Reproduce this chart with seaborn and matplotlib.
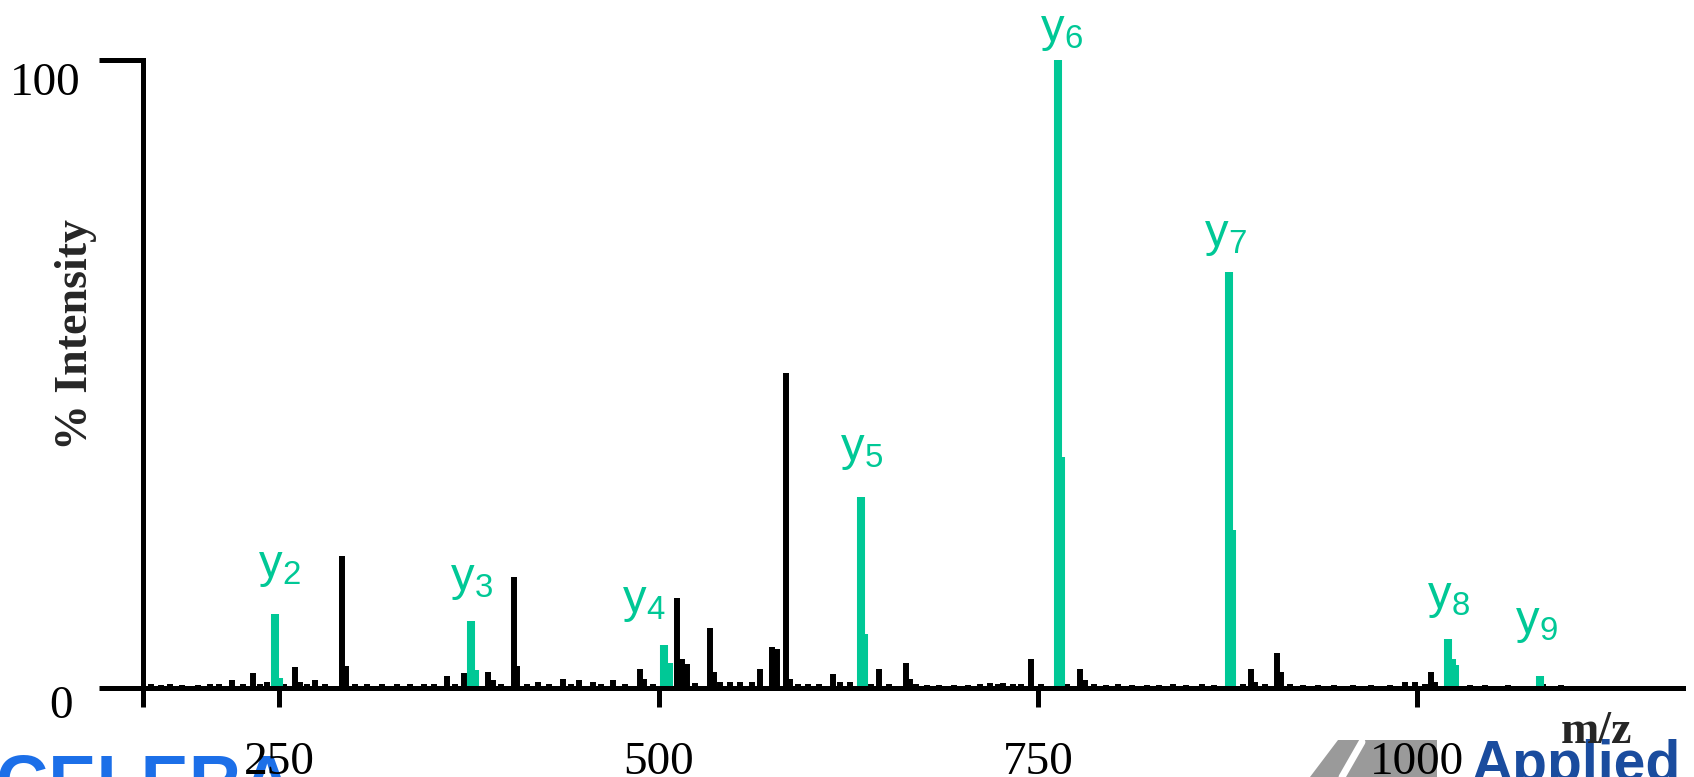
import numpy as np
import pandas as pd
import matplotlib
matplotlib.use("Agg")
import matplotlib.pyplot as plt
import matplotlib.transforms as mtransforms
from matplotlib.patches import Polygon
import seaborn as sns

# ---- spectrum data -------------------------------------------------------
# assigned y-ion fragments
y_ion_names = ["2", "3", "4", "5", "6", "7", "8", "9"]
y_ion_mz = [247.0, 376.3, 503.5, 633.3, 763.2, 876.0, 1020.4, 1081.0]
y_ion_int = [11.8, 10.7, 6.8, 30.4, 100.0, 66.2, 7.8, 1.9]

# isotope shoulders of the y ions
y_iso_mz = [249.5, 378.8, 506.5, 635.5, 765.6, 878.0, 1022.8, 1025.0]
y_iso_int = [1.6, 2.9, 4.0, 8.6, 36.8, 25.2, 4.6, 3.7]

# unassigned peaks
other_mz = [165, 172, 178, 186, 196, 204, 210, 218.6, 226, 232.6, 237, 241.8,
            253, 260.0, 263.5, 268, 273.4, 280, 291.5, 294.0, 300, 308, 317.6,
            327.5, 336, 345, 352, 360.4, 366, 371.7, 387.5, 390.5, 396, 404.6,
            406.5, 413, 420.4, 428, 437.0, 442, 447.5, 456.7, 462, 469.9, 478,
            487.7, 490.5, 496, 512.1, 515.4, 518.6, 524, 533.9, 536.2, 540.5,
            547.1, 553.7, 561.6, 566.9, 574.8, 578.0, 584.0, 586.8, 592, 598.5,
            606, 615.0, 619.6, 626.2, 640, 645.2, 652, 663.1, 666.0, 670, 677,
            685, 695, 704, 712, 718.6, 724, 727.1, 733.7, 739, 745.6, 752, 769,
            777.9, 781, 787, 795, 803, 812, 822, 830, 839, 848, 858.3, 866, 885,
            890.7, 893, 900, 907.9, 910.5, 916, 925, 935, 945, 958, 970, 982,
            992.3, 999.0, 1005, 1009.5, 1012, 1026, 1035, 1045, 1060, 1083, 1095]
other_int = [0.6, 0.5, 0.6, 0.5, 0.5, 0.6, 0.6, 1.2, 0.6, 2.4, 0.7, 1.0,
             0.6, 3.4, 1.0, 0.6, 1.2, 0.7, 21.0, 3.5, 0.6, 0.6, 0.7,
             0.7, 0.6, 0.6, 0.6, 1.9, 0.7, 2.4, 2.6, 1.2, 0.7, 17.7,
             3.5, 0.7, 0.9, 0.6, 1.5, 0.7, 1.2, 0.9, 0.6, 1.2, 0.7,
             3.1, 1.5, 0.7, 14.3, 4.6, 3.9, 0.8, 9.6, 2.5, 1.0,
             0.9, 0.9, 1.0, 3.0, 6.5, 6.2, 50.2, 1.5, 0.7, 0.7,
             0.6, 2.2, 0.9, 0.9, 0.6, 3.0, 0.7, 4.0, 1.5, 0.7, 0.5,
             0.5, 0.5, 0.5, 0.7, 0.8, 0.6, 0.8, 0.7, 0.6, 4.6, 0.6, 0.6,
             3.0, 1.2, 0.6, 0.5, 0.6, 0.5, 0.5, 0.5, 0.7, 0.5, 0.7, 0.5, 0.6,
             3.0, 0.9, 0.6, 5.6, 2.5, 0.6, 0.5, 0.5, 0.5, 0.5, 0.5, 0.5,
             0.9, 1.0, 0.6, 2.5, 0.9, 0.6, 0.5, 0.5, 0.5, 0.6, 0.4]

x_ticks = [250, 500, 750, 1000]
y_ticks = [0, 100]
y_tick_labels = ["0", "100"]

GREEN = "#00C896"
SERIF = "Liberation Serif"
SANS = "Liberation Sans"


def stick_frame(mz, intensity):
    """Long-form table: each peak is a vertical stick from 0 to its intensity."""
    mz = np.asarray(mz, dtype=float)
    inten = np.asarray(intensity, dtype=float)
    n = len(mz)
    return pd.DataFrame({
        "mz": np.repeat(mz, 2),
        "intensity": np.column_stack([np.zeros(n), inten]).ravel(),
        "peak": np.repeat(np.arange(n), 2),
    })


sns.set_theme(style="ticks")
plt.rcParams["font.family"] = [SERIF, "DejaVu Serif"]
plt.rcParams["axes.linewidth"] = 3.6

fig = plt.figure(figsize=(16.94, 7.77), dpi=100)
fig.patch.set_facecolor("white")
ax = fig.add_axes([143 / 1694, 89 / 777, 1540 / 1694, 628 / 777])
ax.set_facecolor("none")

stick_kw = dict(x="mz", y="intensity", units="peak", estimator=None, sort=False,
                ax=ax, legend=False, solid_capstyle="butt")
sns.lineplot(data=stick_frame(other_mz, other_int), color="black", lw=4.3, **stick_kw)
sns.lineplot(data=stick_frame(y_iso_mz, y_iso_int), color=GREEN, lw=5.8, **stick_kw)
sns.lineplot(data=stick_frame(y_ion_mz, y_ion_int), color=GREEN, lw=5.8, **stick_kw)

ax.set_xlim(160.0, 1175.4)
ax.set_ylim(0, 100)
ax.set_xlabel("")
ax.set_ylabel("")

# axes frame: L-shaped, heavy black lines
for side in ("top", "right"):
    ax.spines[side].set_visible(False)
for side in ("left", "bottom"):
    ax.spines[side].set_color("black")
    ax.spines[side].set_linewidth(3.6)
    ax.spines[side].set_zorder(5)
ax.spines["left"].set_bounds(0, 100)

x_lo = ax.get_xlim()[0]
ax.set_xticks([x_lo] + x_ticks)
ax.set_xticklabels([""] + [str(t) for t in x_ticks], fontfamily=SERIF, fontsize=34)
ax.set_yticks(y_ticks)
ax.set_yticklabels(y_tick_labels, fontfamily=SERIF, fontsize=34)
ax.tick_params(axis="x", which="major", bottom=True, top=False, direction="out",
               length=13.7, width=3.6, color="black", pad=25, labelcolor="black")
ax.tick_params(axis="y", which="major", left=True, right=False, direction="out",
               length=32, width=3.6, color="black", pad=13, labelcolor="black")
ax.minorticks_off()

# y tick labels sit a little below their ticks
shifts = {"0": (-8, -14), "100": (0, -19)}
for lab in ax.get_yticklabels():
    dx, dy = shifts.get(lab.get_text(), (0, 0))
    off = mtransforms.ScaledTranslation(dx / 100, dy / 100, fig.dpi_scale_trans)
    lab.set_transform(lab.get_transform() + off)

# ion labels above the assigned peaks (offsets in pixels)
label_offsets = {"2": (4, 47), "3": (0, 41), "4": (-20, 43), "5": (1, 47),
                 "6": (4, 29), "7": (-4, 36), "8": (1, 41), "9": (-3, 53)}
for name, mz, inten in zip(y_ion_names, y_ion_mz, y_ion_int):
    dx, dy = label_offsets[name]
    ax.annotate(rf"$\mathregular{{y_{{{name}}}}}$", xy=(mz, inten),
                xytext=(dx * 0.72, dy * 0.72), textcoords="offset points",
                ha="center", va="center", fontsize=34, color=GREEN,
                fontfamily=SANS, annotation_clip=False)

fig.text(76 / 1694, 1 - 335 / 777, "% Intensity", rotation=90, ha="center",
         va="center", fontsize=33, fontweight="bold", fontfamily=SERIF)
fig.text(1596 / 1694, 1 - 732 / 777, "m/z", ha="center", va="center",
         fontsize=33, fontweight="bold", fontfamily=SERIF)

# company marks along the bottom edge
fig.text(-4 / 1694, (777 - 805) / 777, "CELERA", fontsize=52, fontweight="bold",
         fontfamily=SANS, color="#1C6FE8", va="baseline", ha="left", zorder=-1)
fig.text(1472 / 1694, (777 - 781) / 777, "Applied", fontsize=41, fontweight="bold",
         fontfamily=SANS, color="#1A4C9E", va="baseline", ha="left", zorder=-1)
logo = Polygon([(1310 / 1694, 0), (1338 / 1694, 37 / 777), (1437 / 1694, 37 / 777),
                (1437 / 1694, 0)], closed=True, transform=fig.transFigure,
               facecolor="#9A9A9A", edgecolor="none", zorder=-2)
fig.add_artist(logo)
fig.add_artist(plt.Line2D([1342 / 1694, 1362 / 1694], [0, 35 / 777],
                          transform=fig.transFigure, color="white", lw=5, zorder=-1))

fig.savefig("out.png", dpi=100, facecolor="white")
